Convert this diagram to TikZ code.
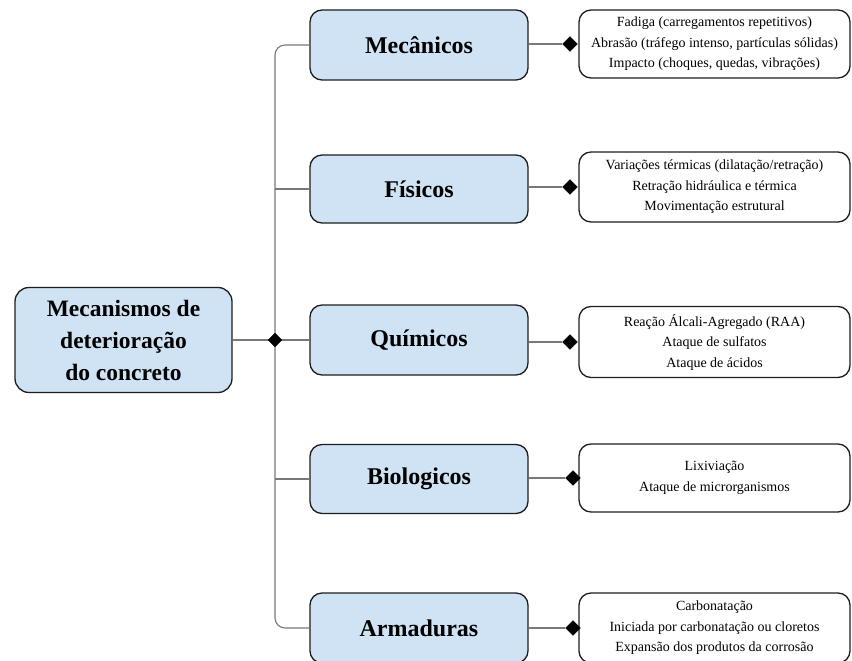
\documentclass[tikz,border=0pt]{standalone}
\usepackage{fontspec}
\setmainfont{Liberation Serif}
\usetikzlibrary{shapes.geometric}
\definecolor{boxblue}{RGB}{208,227,244}
\definecolor{conngray}{RGB}{120,120,120}
\definecolor{edgedark}{RGB}{30,30,30}
\tikzset{
  catbox/.style={draw=edgedark, line width=1.3pt, fill=boxblue, rounded corners=12pt,
    minimum width=218pt, minimum height=70pt, inner sep=0pt,
    font=\fontsize{24}{28}\selectfont\bfseries},
  rootbox/.style={draw=edgedark, line width=1.3pt, fill=boxblue, rounded corners=14pt,
    minimum width=217pt, minimum height=105pt, inner sep=0pt, align=center,
    font=\fontsize{23.5}{32}\selectfont\bfseries},
  detbox/.style={draw=edgedark, line width=1.3pt, fill=white, rounded corners=12pt,
    minimum width=271pt, minimum height=68pt, inner sep=0pt, align=center,
    font=\fontsize{14}{20.5}\selectfont},
  conn/.style={draw=conngray, line width=1.1pt},
  dia/.style={diamond, fill=black, draw=black, inner sep=0pt, minimum width=15pt, minimum height=15pt}
}
\begin{document}
\begin{tikzpicture}[x=1pt,y=-1pt]
\useasboundingbox (0,0) rectangle (852,661);
% category boxes
\node[catbox] (mec) at (419,45) {Mecânicos};
\node[catbox, minimum height=68pt] (fis) at (419,189) {Físicos};
\node[catbox] (qui) at (419,340) {Químicos};
\node[catbox, minimum height=69pt] (bio) at (419,479) {Biologicos};
\node[catbox] (arm) at (419,628) {Armaduras};
% root
\node[rootbox] (root) at (123.5,340) {Mecanismos de\\deterioração\\do concreto};
% trunk
\coordinate (j) at (275,340);
\draw[conn, rounded corners=10pt] (mec.west) -| (j) |- (arm.west);
\draw[conn] (fis.west) -- (fis.west -| j);
\draw[conn] (bio.west) -- (bio.west -| j);
\draw[conn] (root.east) -- (qui.west);
\node[dia, minimum width=14pt, minimum height=14pt] (jd) at (j) {};
% detail boxes
\node[detbox] (dmec) at (714.5,44) {Fadiga (carregamentos repetitivos)\\Abrasão (tráfego intenso, partículas sólidas)\\Impacto (choques, quedas, vibrações)};
\node[detbox, minimum height=70pt] (dfis) at (714.5,187) {Variações térmicas (dilatação/retração)\\Retração hidráulica e térmica\\Movimentação estrutural};
\node[detbox, minimum height=71pt] (dqui) at (714.5,342) {Reação Álcali-Agregado (RAA)\\Ataque de sulfatos\\Ataque de ácidos};
\node[detbox] (dbio) at (714.5,478) {Lixiviação\\Ataque de microrganismos};
\node[detbox, minimum height=70pt] (darm) at (714.5,628) {Carbonatação\\Iniciada por carbonatação ou cloretos\\Expansão dos produtos da corrosão};
% right diamonds
\node[dia] (dm1) at (570,44) {};
\node[dia] (dm2) at (570,187) {};
\node[dia] (dm3) at (570,342) {};
\node[dia] (dm4) at (573,478) {};
\node[dia] (dm5) at (573,628) {};
\draw[conn] (mec.east |- dm1) -- (dm1);
\draw[conn] (fis.east |- dm2) -- (dm2);
\draw[conn] (qui.east |- dm3) -- (dm3);
\draw[conn] (bio.east |- dm4) -- (dm4);
\draw[conn] (arm.east |- dm5) -- (dm5);
\end{tikzpicture}
\end{document}
